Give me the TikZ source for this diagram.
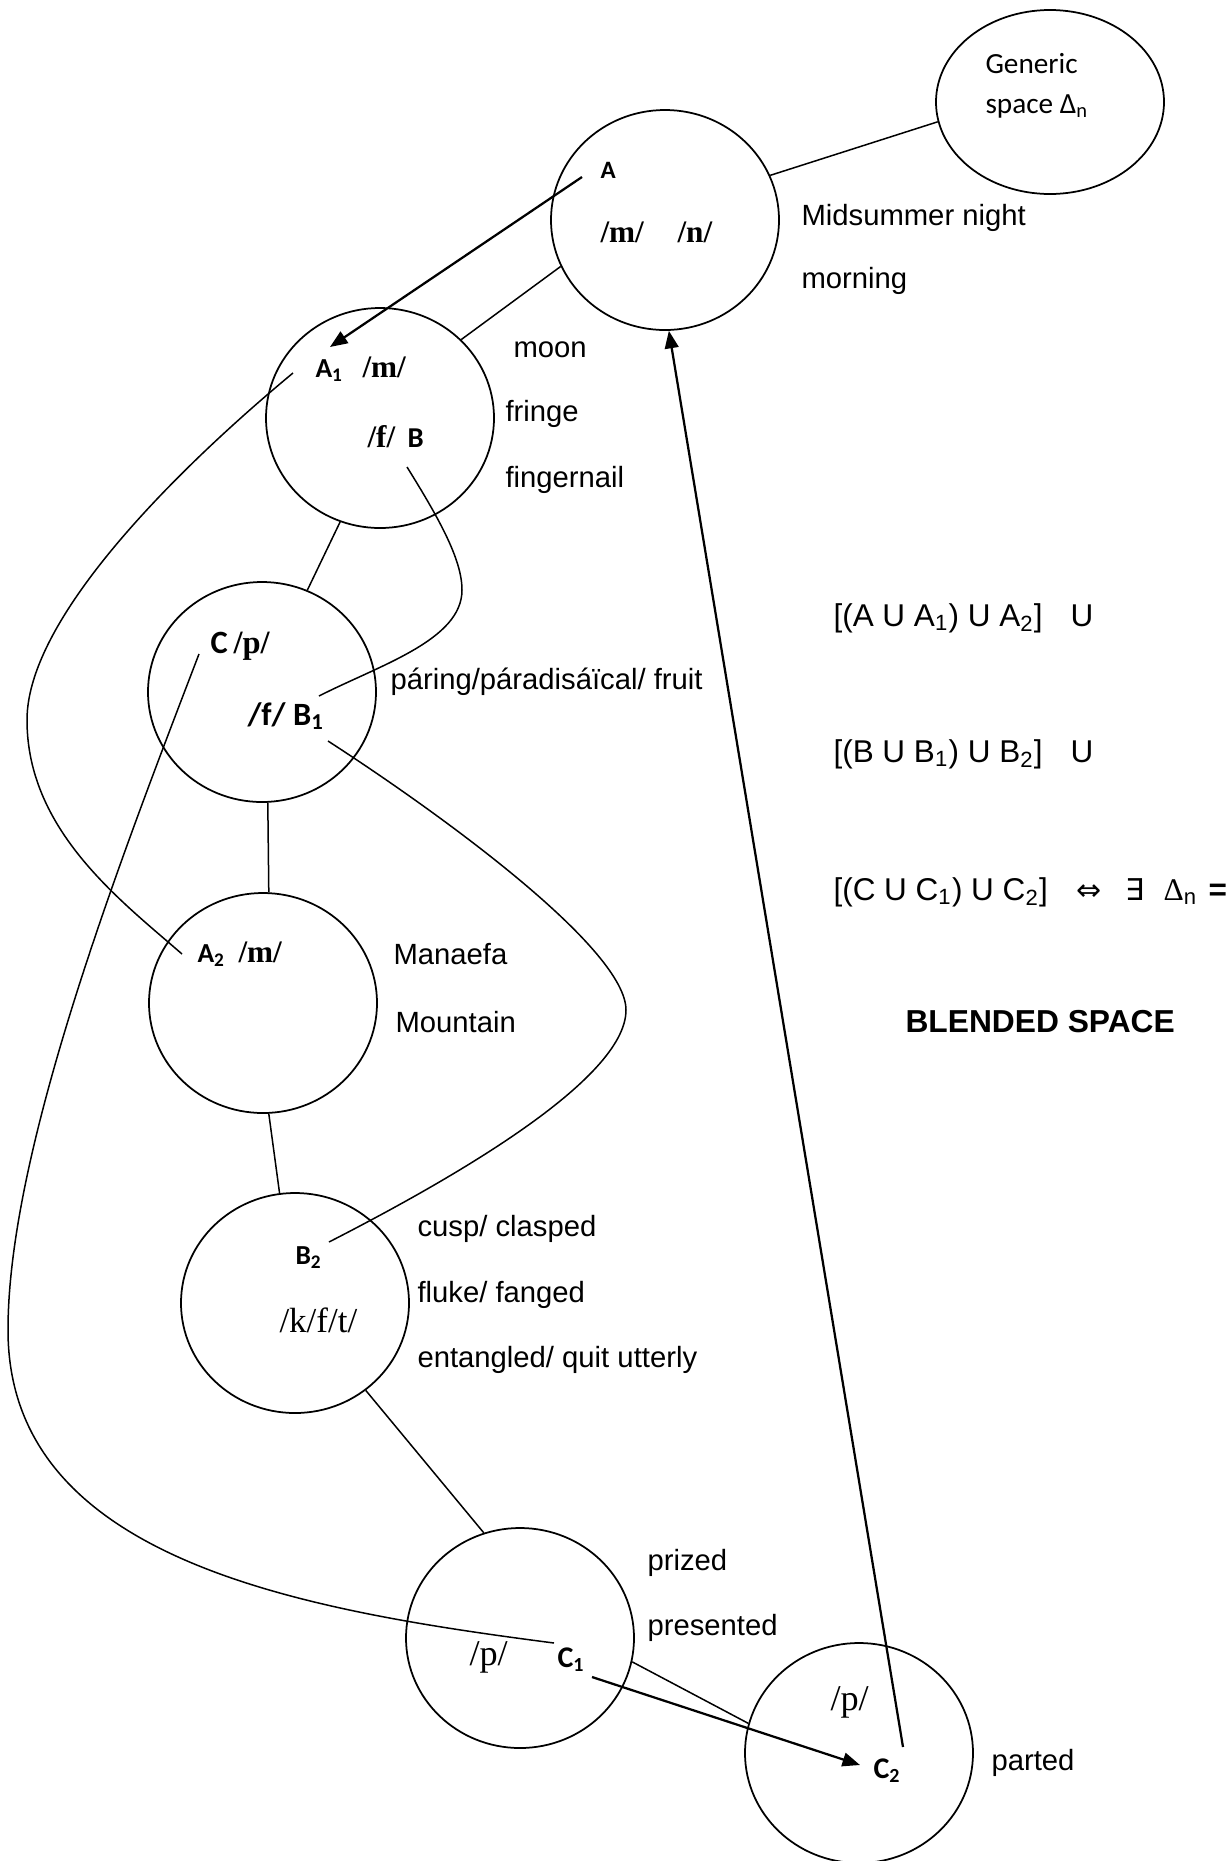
\documentclass[tikz,border=0pt]{standalone}
\usepackage{fontspec}
\setmainfont{Liberation Sans}
\newfontfamily\calibfont{Carlito}
\newfontfamily\serffont{Liberation Serif}
\newfontfamily\symfont{DejaVu Sans}
\usetikzlibrary{shapes.geometric,arrows.meta}

\tikzset{
  spacecircle/.style={draw, ellipse, line width=0.7pt, minimum width=91.2pt,
    minimum height=88pt, inner sep=0pt},
  word/.style={anchor=base west, inner sep=0pt, font=\fontsize{11.7}{14}\selectfont},
  formula/.style={anchor=base west, inner sep=0pt, font=\fontsize{12.6}{15}\selectfont},
  tag/.style={anchor=base west, inner sep=0pt, font=\calibfont\bfseries\fontsize{#1}{14}\selectfont},
  gentext/.style={anchor=base west, inner sep=0pt, font=\calibfont\fontsize{11.7}{14}\selectfont},
  phon/.style={anchor=base west, inner sep=0pt, font=\serffont\bfseries\fontsize{#1}{14}\selectfont},
  phonr/.style={anchor=base west, inner sep=0pt, font=\serffont\fontsize{#1}{14}\selectfont},
  link/.style={line width=0.6pt},
  bigarrow/.style={line width=0.9pt, -{Triangle[length=7pt,width=5.5pt]}}
}

\begin{document}
\begin{tikzpicture}[x=0.4pt,y=-0.4pt]
\useasboundingbox (0,0) rectangle (1230,1861);

% the spaces
\node[spacecircle] (A)  at (665,220)  {};
\node[spacecircle, minimum height=73.6pt] (G) at (1050,102) {};
\node[spacecircle] (A1) at (380,418)  {};
\node[spacecircle] (C)  at (262,692)  {};
\node[spacecircle] (A2) at (263,1003) {};
\node[spacecircle] (B2) at (295,1303) {};
\node[spacecircle] (C1) at (520,1638) {};
\node[spacecircle] (C2) at (859,1753) {};

% free ends of the connectors inside the spaces
\coordinate (aTail)  at (582,177);
\coordinate (a1Head) at (330,347);
\coordinate (a1Out)  at (293,373);
\coordinate (a2In)   at (182,954);
\coordinate (bOut)   at (407,467);
\coordinate (b1In)   at (319,696);
\coordinate (b1Out)  at (328,741);
\coordinate (b2In)   at (329,1242);
\coordinate (cOut)   at (199,654);
\coordinate (c1In)   at (554,1643);
\coordinate (c1Out)  at (592,1677);
\coordinate (c2In)   at (860,1765);
\coordinate (c2Out)  at (903,1747);

% straight links between the spaces
\draw[link] (A.23.7) -- (G.190);
\draw[link] (A.204) -- (A1.44);
\draw[link] (A1.-111) -- (C.66);
\draw[link] (C.-87) -- (A2.87);
\draw[link] (A2.-87) -- (B2.98);
\draw[link] (B2.-51) -- (C1.109);
\draw[link] (C1.-12) -- (C2.165);

% arrows
\draw[bigarrow] (aTail) -- (a1Head);
\draw[bigarrow] (c1Out) -- (c2In);
\draw[bigarrow] (c2Out) -- (A.-88);

% curved links
\draw[link] (a1Out) .. controls (200,450) and (27,610) .. (27,720)
  .. controls (27,830) and (120,900) .. (a2In);
\draw[link] (bOut) .. controls (440,520) and (462,560) .. (462,590)
  .. controls (462,640) and (380,665) .. (b1In);
\draw[link] (b1Out) .. controls (450,820) and (626,950) .. (626,1010)
  .. controls (626,1080) and (450,1180) .. (b2In);
\draw[link] (cOut) .. controls (120,860) and (8,1150) .. (8,1330)
  .. controls (8,1560) and (300,1610) .. (c1In);

% generic space
\node[gentext] (tGen1) at (985,73)  {Generic};
\node[gentext] (tGen2) at (985,113) {space Δ\textsubscript{n}};

% space A
\node[tag=10]  (lA)  at (600,178) {A};
\node[phon=12.5] (pAm) at (600,242) {/m/};
\node[phon=12.5] (pAn) at (677,242) {/n/};
\node[word] (tMid)  at (801,225) {Midsummer night};
\node[word] (tMorn) at (801,288) {morning};

% space A1
\node[word] (tMoon) at (513,357) {moon};
\node[tag=11]  (lA1)  at (315,377) {A\textsubscript{1}};
\node[phon=12.5] (pA1m) at (362,377) {/m/};
\node[word] (tFringe) at (505,421) {fringe};
\node[phon=12.5] (pA1f) at (367,447) {/f/};
\node[tag=11.5] (lB)  at (407,447) {B};
\node[word] (tFinger) at (505,487) {fingernail};

% space C / B1
\node[tag=13]  (lC)  at (210,653) {C};
\node[phon=13] (pCp) at (233,653) {/p/};
\node[tag=13]  (lB1) at (247,725) {/f/ B\textsubscript{1}};
\node[word] (tParing) at (390,689) {páring/páradisáïcal/ fruit};

% space A2
\node[tag=11]  (lA2)  at (197,962) {A\textsubscript{2}};
\node[phon=12.5] (pA2m) at (238,962) {/m/};
\node[word] (tMan)   at (393,964)  {Manaefa};
\node[word] (tMount) at (395,1032) {Mountain};

% space B2
\node[word] (tCusp)  at (417,1236) {cusp/ clasped};
\node[tag=11]   (lB2)  at (295,1264) {B\textsubscript{2}};
\node[word] (tFluke) at (417,1302) {fluke/ fanged};
\node[phonr=14] (pKft) at (279,1332) {/k/f/t/};
\node[word] (tEnt)   at (417,1367) {entangled/ quit utterly};

% space C1
\node[word] (tPrized) at (647,1570) {prized};
\node[word] (tPres)   at (647,1635) {presented};
\node[phonr=14.5] (pC1) at (469,1665) {/p/};
\node[tag=12]   (lC1) at (557,1667) {C\textsubscript{1}};

% space C2
\node[phonr=14.5] (pC2) at (830,1710) {/p/};
\node[tag=12]   (lC2) at (873,1778) {C\textsubscript{2}};
\node[word] (tParted) at (991,1770) {parted};

% blended space
\node[formula] (f1)  at (833,626)  {[(A U A\textsubscript{1}) U A\textsubscript{2}]};
\node[formula] (f1u) at (1070,626) {U};
\node[formula] (f2)  at (833,762)  {[(B U B\textsubscript{1}) U B\textsubscript{2}]};
\node[formula] (f2u) at (1070,762) {U};
\node[formula] (f3)  at (833,900)  {[(C U C\textsubscript{1}) U C\textsubscript{2}]};
\node[formula, font=\symfont\fontsize{12}{15}\selectfont] (f3iff) at (1076,900) {⇔};
\node[formula, font=\symfont\fontsize{12}{15}\selectfont] (f3ex)  at (1125,900) {∃};
\node[formula, font=\serffont\fontsize{12.6}{15}\selectfont] (f3d) at (1163,900) {Δ\textsubscript{\fontspec{Liberation Sans}n}};
\node[formula] (f3eq) at (1208,900) {\textbf{=}};
\node[formula, font=\bfseries\fontsize{12.7}{15}\selectfont] (tBlend) at (905,1032) {BLENDED SPACE};
\end{tikzpicture}
\end{document}
